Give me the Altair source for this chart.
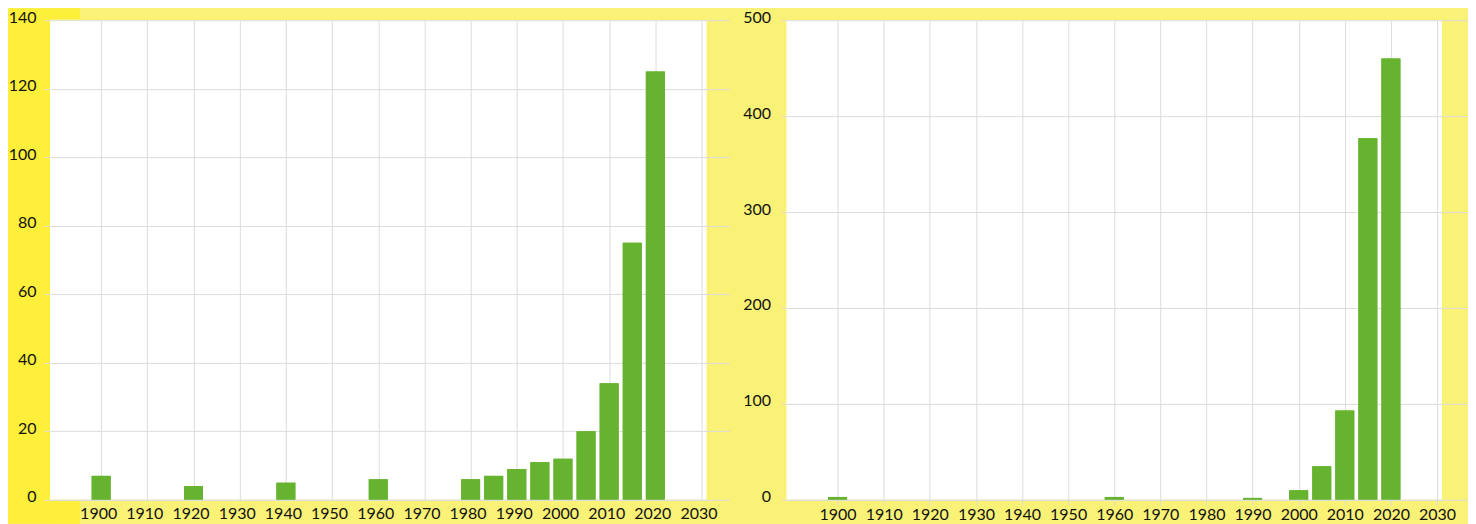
import altair as alt
import pandas as pd

# ---- data ----
years_left = [1900, 1920, 1940, 1960, 1980, 1985, 1990, 1995, 2000, 2005, 2010, 2015, 2020]
counts_left = [7, 4, 5, 6, 6, 7, 9, 11, 12, 20, 34, 75, 125]

years_right = [1900, 1960, 1990, 2000, 2005, 2010, 2015, 2020]
counts_right = [3, 3, 2, 10, 35, 93, 377, 460]

x_ticks = [1900, 1910, 1920, 1930, 1940, 1950, 1960, 1970, 1980, 1990, 2000, 2010, 2020, 2030]
y_ticks_left = [0, 20, 40, 60, 80, 100, 120, 140]
y_ticks_right = [0, 100, 200, 300, 400, 500]
x_domain = [1890, 2030]

# ---- styles ----
GREEN = "#66B32F"
GRID = "#DCDCDC"
LIGHT_YELLOW = "#FAF177"
BRIGHT_YELLOW = "#FDEF3A"
FONT = "Lato"


def panel(years, counts, yticks, ymax, width, left_extent, y_tick, y_pad,
          right_tick, x_tick, x_pad, label_dx, deco):
    df = pd.DataFrame({"year": years, "count": counts})
    xs = alt.Scale(domain=x_domain, nice=False, zero=False)
    ys = alt.Scale(domain=[0, ymax], nice=False)

    grid_layer = alt.Chart(df).mark_bar(size=19, color=GREEN).encode(
        x=alt.X("year:Q", scale=xs, axis=alt.Axis(
            orient="top", values=x_ticks, grid=True, gridColor=GRID,
            labels=False, ticks=False, domain=False, title=None,
            minExtent=0, maxExtent=0, zindex=0)),
        y=alt.Y("count:Q", scale=ys, axis=alt.Axis(
            orient="right", values=yticks, grid=True, gridColor=GRID,
            labels=False, ticks=True, tickSize=right_tick, tickColor=GRID,
            domain=False, title=None, minExtent=0, maxExtent=0, zindex=0)),
    )

    x_axis_kw = dict(orient="bottom", values=x_ticks, grid=False, format="d",
                     labelOffset=label_dx, labelPadding=x_pad, labelFlush=False,
                     labelOverlap=False, domain=True, domainColor=GRID,
                     labelFontSize=16, title=None, zindex=1)
    if x_tick > 0:
        x_axis_kw.update(ticks=True, tickSize=x_tick, tickColor=GRID)
    else:
        x_axis_kw.update(ticks=False, tickSize=0)

    label_layer = alt.Chart(df).mark_bar(size=19, color=GREEN).encode(
        x=alt.X("year:Q", scale=xs, axis=alt.Axis(**x_axis_kw)),
        y=alt.Y("count:Q", scale=ys, axis=alt.Axis(
            orient="left", values=yticks, grid=False, ticks=True,
            tickSize=y_tick, tickColor=GRID, labelPadding=y_pad, labelOffset=-3,
            labelFontSize=16, domain=False, title=None,
            minExtent=left_extent, maxExtent=left_extent, zindex=1)),
    )

    layers = []
    if deco:
        one = pd.DataFrame({"k": [0]})
        # bright yellow band at the far left of the figure (background decoration)
        layers.append(alt.Chart(one).mark_rect(color=BRIGHT_YELLOW).encode(
            x=alt.value(-42), x2=alt.value(0), y=alt.value(-12), y2=alt.value(504)))
        layers.append(alt.Chart(one).mark_rect(color=BRIGHT_YELLOW).encode(
            x=alt.value(0), x2=alt.value(30), y=alt.value(-12), y2=alt.value(-1)))
        layers.append(alt.Chart(one).mark_rect(color=BRIGHT_YELLOW).encode(
            x=alt.value(0), x2=alt.value(30), y=alt.value(481), y2=alt.value(504)))
    layers += [grid_layer, label_layer]

    return alt.layer(*layers).resolve_scale(
        x="shared", y="shared"
    ).resolve_axis(
        x="independent", y="independent"
    ).properties(width=width, height=480)


left = panel(years_left, counts_left, y_ticks_left, 140, 657, 42, 6, 8,
             23, 0, 6, -3, True)
right = panel(years_right, counts_right, y_ticks_right, 500, 656, 42, 5, 11,
              25, 5, 2, 0, False)

chart = alt.hconcat(left, right, spacing=12).properties(
    background=LIGHT_YELLOW,
    padding={"left": 0, "top": 0, "right": 0, "bottom": 0},
).configure_view(
    fill="white", stroke=None
).configure_axis(
    labelFont=FONT, labelColor="#111111"
)

chart.save("out.html", embed_options={"renderer": "svg", "actions": False})
